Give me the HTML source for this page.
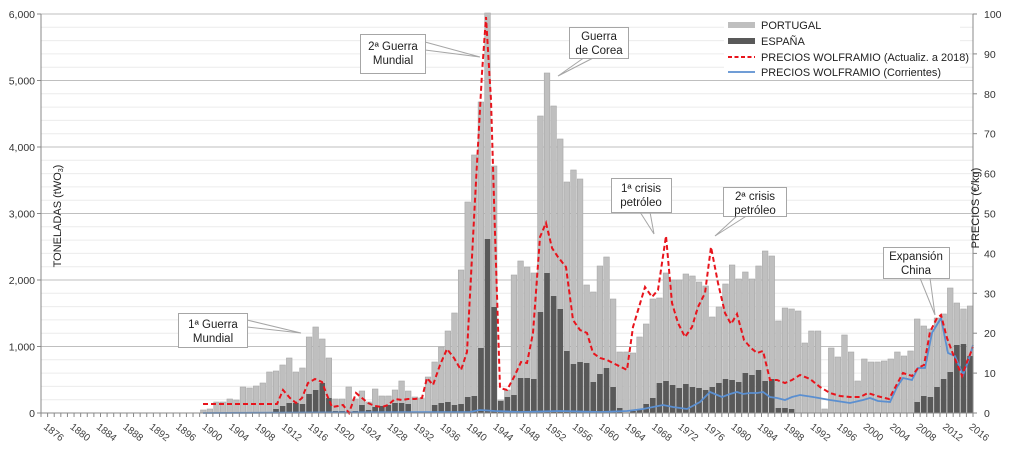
<!DOCTYPE html>
<html><head><meta charset="utf-8"><style>
html,body{margin:0;padding:0;background:#fff}
svg{display:block;font-family:"Liberation Sans",Arial,sans-serif}
</style></head><body>
<svg id="c" width="1024" height="451" viewBox="0 0 1024 451" xmlns="http://www.w3.org/2000/svg">
<g id="grid"></g>
<g id="bars"></g>
<polyline fill="none" stroke="#5b8fd0" stroke-width="1.8" points="203,413 470,412 480,410 495,411 520,412 560,411 600,412 627,411 643,409 663,405 673,407 687,409 700,402 710,392 722,397 730,394 737,392 743,394 750,393 757,393 763,392 770,397 777,398 785,400 792,397 800,395 813,397 830,400 850,403 863,400 870,398 878,401 890,402 897,387 903,378 912,380 918,368 925,368 932,333 941,318 948,353 955,356 963,375 968,362 973,345"/>
<polyline fill="none" stroke="#e8141c" stroke-width="2" stroke-dasharray="5,3" points="203,404 277,404 283,390 290,398 296,403 302,398 308,383 315,379 322,382 327,395 332,407 338,406 343,405 349,413 356,393 362,398 368,403 375,406 382,407 388,405 395,399 402,400 408,399 415,399 422,398 427,378 433,385 440,365 447,349 454,358 461,370 467,352 475,200 482,73 486,17 491,100 495,233 500,388 507,390 514,377 521,362 527,363 533,333 540,237 546,223 552,248 558,257 566,267 573,320 580,330 587,333 593,353 600,358 607,360 613,363 627,370 633,327 645,287 652,297 658,290 666,236 672,303 678,323 685,337 692,327 698,307 705,293 711,247 718,283 725,313 731,324 737,314 744,340 751,348 757,353 763,351 770,380 777,380 785,383 792,380 800,375 810,379 820,387 830,393 840,396 850,397 860,397 868,393 877,396 889,399 897,384 903,373 912,376 918,368 924,365 930,332 937,318 941,315 947,338 953,354 962,376 967,362 973,347"/>
<g id="axes"></g>
<!-- legend -->
<rect x="724" y="16" width="236" height="63" fill="#fff"/>
<rect x="728" y="22" width="27" height="6" fill="#bfbfbf"/>
<rect x="728" y="38" width="27" height="6" fill="#595959"/>
<line x1="728" y1="57" x2="755" y2="57" stroke="#e8141c" stroke-width="2" stroke-dasharray="4,2.5"/>
<line x1="728" y1="72" x2="755" y2="72" stroke="#5b8fd0" stroke-width="1.8"/>
<g font-size="11" fill="#222">
<text x="761" y="29">PORTUGAL</text>
<text x="761" y="45">ESPAÑA</text>
<text x="761" y="61" textLength="208" lengthAdjust="spacingAndGlyphs">PRECIOS WOLFRAMIO (Actualiz. a 2018)</text>
<text x="761" y="76" textLength="180" lengthAdjust="spacingAndGlyphs">PRECIOS WOLFRAMIO (Corrientes)</text>
</g>
<!-- callouts -->
<g stroke="#a6a6a6" stroke-width="1" fill="none">
<polyline points="247,320 301,333 247,327"/>
<polyline points="425,42 480,57 425,50"/>
<polyline points="585,57 558,76 595,57"/>
<polyline points="640,212 654,234 650,212"/>
<polyline points="738,215 715,236 748,215"/>
<polyline points="920,278 935,315 930,278"/>
</g>
<g fill="#fff" stroke="#a6a6a6" stroke-width="1">
<rect x="178.5" y="313.5" width="69" height="34"/>
<rect x="360.5" y="34.5" width="65" height="39"/>
<rect x="569.5" y="27.5" width="59" height="31"/>
<rect x="611.5" y="178.5" width="60" height="34"/>
<rect x="723.5" y="187.5" width="63" height="29"/>
<rect x="883.5" y="247.5" width="66" height="31"/>
</g>
<g font-size="11.5" fill="#222" text-anchor="middle">
<text x="213" y="328">1ª Guerra</text><text x="213" y="342">Mundial</text>
<text x="393" y="50">2ª Guerra</text><text x="393" y="64">Mundial</text>
<text x="599" y="40">Guerra</text><text x="599" y="54">de Corea</text>
<text x="641" y="192">1ª crisis</text><text x="641" y="206">petróleo</text>
<text x="755" y="200">2ª crisis</text><text x="755" y="214">petróleo</text>
<text x="916" y="260">Expansión</text><text x="916" y="274">China</text>
</g>
<text transform="translate(61,216) rotate(-90)" font-size="11" fill="#222" text-anchor="middle">TONELADAS (tWO<tspan font-size="7" dy="2">3</tspan><tspan dy="-2">)</tspan></text>
<text transform="translate(979,208) rotate(-90)" font-size="11" fill="#222" text-anchor="middle">PRECIOS (€/kg)</text>
</svg>
<script>
var NS="http://www.w3.org/2000/svg";
function el(p,n,a,t){var e=document.createElementNS(NS,n);for(var k in a)e.setAttribute(k,a[k]);if(t!==undefined)e.textContent=t;document.getElementById(p).appendChild(e);return e;}
for(var v=0;v<=6000;v+=200){var y=413-v*0.0665;if(v>0)el('grid','line',{x1:41,x2:973,y1:y,y2:y,stroke:(v%1000==0)?'#bfbfbf':'#ececec','stroke-width':1});}
var P=[410,409,402,402,399,400,387,388,386,383,372,371,365,358,372,368,337,327,339,358,399,399,387,399,391,402,389,396,396,390,381,391,397,398,377,362,347,331,313,270,202,155,102,13,166,400,390,275,261,267,273,116,73,106,139,182,170,179,285,292,266,257,299,352,352,353,337,324,299,298,273,280,280,274,276,282,286,317,307,284,265,279,272,279,266,251,256,321,308,309,311,343,331,331,409,348,357,335,352,381,359,362,362,361,359,352,356,351,319,326,329,318,314,288,303,309,306];
var E={11:409,12:406,13:403,14:403,15:404,16:394,17:390,18:383,19:398,20:411,21:411,23:411,24:405,25:410,26:407,27:406,28:405,29:403,30:403,31:404,33:412,34:412,35:405,36:403,37:402,38:405,39:404,40:397,41:396,42:348,43:239,44:307,45:401,46:397,47:395,48:378,49:378,50:379,51:312,52:273,53:296,54:309,55:351,56:364,57:362,58:363,59:382,60:374,61:368,62:387,63:408,65:411,66:410,67:404,68:398,69:383,70:381,71:385,72:388,73:384,74:387,75:388,76:390,77:387,78:383,79:379,80:380,81:382,82:373,83:375,84:370,85:381,86:379,87:408,88:408,89:409,108:402,109:396,110:397,111:387,112:379,113:372,114:345,115:344,116:356};
for(var i=0;i<P.length;i++){var x=200.5+i*6.61;
el('bars','rect',{x:x,y:P[i],width:5.6,height:413-P[i],fill:'#bfbfbf',stroke:'#a8a8a8','stroke-width':0.6});
if(E[i])el('bars','rect',{x:x,y:E[i],width:5.6,height:413-E[i],fill:'#595959'});}
el('axes','line',{x1:41,x2:41,y1:14,y2:413,stroke:'#888'});
el('axes','line',{x1:973,x2:973,y1:14,y2:413,stroke:'#888'});
el('axes','line',{x1:41,x2:973,y1:413,y2:413,stroke:'#888'});
for(var v=0;v<=6;v++){var y=413-v*66.5;
el('axes','line',{x1:37,x2:41,y1:y,y2:y,stroke:'#888'});
el('axes','text',{x:35,y:y+4,'font-size':10.5,fill:'#333','text-anchor':'end'},v==0?'0':v+',000');}
for(var v=0;v<=10;v++){var y=413-v*39.9;
el('axes','line',{x1:973,x2:977,y1:y,y2:y,stroke:'#888'});
el('axes','text',{x:984,y:y+4,'font-size':10.5,fill:'#333'},String(v*10));}
for(var k=0;k<=141;k++){var x=41+k*6.61;el('axes','line',{x1:x,x2:x,y1:413,y2:417,stroke:'#888'});}
for(var yr=1876;yr<=2016;yr+=4){var x=41+(yr-1876)*6.61+3;
el('axes','text',{transform:'translate('+(x-1)+',428) rotate(38)','font-size':10,fill:'#444'},String(yr));}
</script>
</body></html>
